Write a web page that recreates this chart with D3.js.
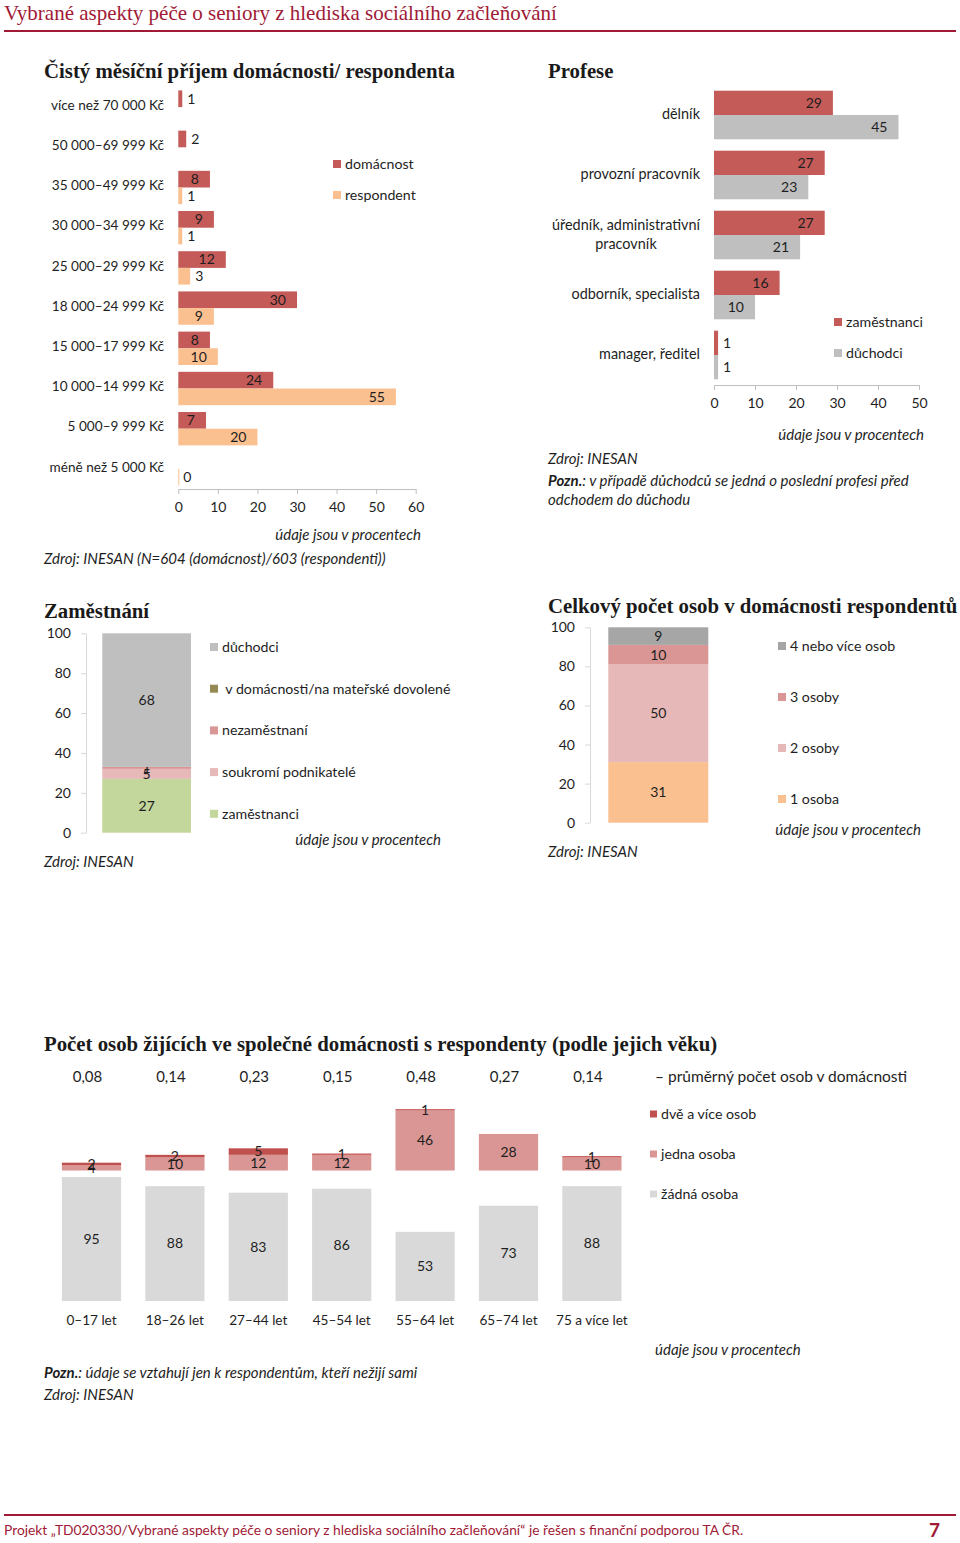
<!DOCTYPE html>
<html><head><meta charset="utf-8">
<script src="https://cdn.jsdelivr.net/npm/d3@7"></script>
<style>
body{margin:0;background:#fff}
svg{display:block;background:#fff}
text{white-space:pre}
</style></head><body>
<svg id="c" width="960" height="1543"></svg>
<script>
// ---------- DATA ----------
const headerTitle = "Vybrané aspekty péče o seniory z hlediska sociálního začleňování";
const footerText = "Projekt „TD020330/Vybrané aspekty péče o seniory z hlediska sociálního začleňování“ je řešen s finanční podporou TA ČR.";
const pageNumber = "7";

const incomeTitle = "Čistý měsíční příjem domácnosti/ respondenta";
const incomeCats = ["více než 70 000 Kč", "50 000–69 999 Kč", "35 000–49 999 Kč", "30 000–34 999 Kč", "25 000–29 999 Kč", "18 000–24 999 Kč", "15 000–17 999 Kč", "10 000–14 999 Kč", "5 000–9 999 Kč", "méně než 5 000 Kč"];
const incomeSeries = ["domácnost", "respondent"];
const incomeHousehold = [1, 2, 8, 9, 12, 30, 8, 24, 7, null];
const incomeRespondent = [null, null, 1, 1, 3, 9, 10, 55, 20, 0];
const incomeTicks = [0, 10, 20, 30, 40, 50, 60];
const incomeSource = "Zdroj: INESAN (N=604 (domácnost)/603 (respondenti))";

const profTitle = "Profese";
const profCats = ["dělník", "provozní pracovník", "úředník, administrativní pracovník", "odborník, specialista", "manager, ředitel"];
const profSeries = ["zaměstnanci", "důchodci"];
const profEmployees = [29, 27, 27, 16, 1];
const profRetired = [45, 23, 21, 10, 1];
const profTicks = [0, 10, 20, 30, 40, 50];
const profSource = "Zdroj: INESAN";
const profNoteBold = "Pozn.";
const profNote = [": v případě důchodců se jedná o poslední profesi před", "odchodem do důchodu"];

const empTitle = "Zaměstnání";
const empCats = ["zaměstnanci", "soukromí podnikatelé", "nezaměstnaní", " v domácnosti/na mateřské dovolené", "důchodci"];
const empValues = [27, 5, 1, 0, 68];
const empTicks = [0, 20, 40, 60, 80, 100];

const hhTitle = "Celkový počet osob v domácnosti respondentů";
const hhCats = ["1 osoba", "2 osoby", "3 osoby", "4 nebo více osob"];
const hhValues = [31, 50, 10, 9];
const hhTicks = [0, 20, 40, 60, 80, 100];

const ageTitle = "Počet osob žijících ve společné domácnosti s respondenty (podle jejich věku)";
const ageCats = ["0–17 let", "18–26 let", "27–44 let", "45–54 let", "55–64 let", "65–74 let", "75 a více let"];
const ageSeries = ["žádná osoba", "jedna osoba", "dvě a více osob"];
const ageNone = [95, 88, 83, 86, 53, 73, 88];
const ageOne = [4, 10, 12, 12, 46, 28, 10];
const ageTwoPlus = [2, 2, 5, 1, 1, null, 1];
const ageAvg = [0.08, 0.14, 0.23, 0.15, 0.48, 0.27, 0.14];
const ageAvgLabel = "– průměrný počet osob v domácnosti";
const ageNoteBold = "Pozn.";
const ageNote = ": údaje se vztahují jen k respondentům, kteří nežijí sami";

const unitNote = "údaje jsou v procentech";
const srcNote = "Zdroj: INESAN";

// ---------- STYLE ----------
const SANS = "Lato, 'Liberation Sans', sans-serif";
const SERIF = "'Liberation Serif', 'DejaVu Serif', serif";
const TXT = "#1e1e1e";
const DARKRED = "#a01a36";
const RED = "#c45b58";
const PEACH = "#fac090";
const GREY = "#bfbfbf";
const PINK = "#e6b9b8";
const ROSE = "#d99694";
const DEEPRED = "#c0504d";
const GREEN = "#c3d69b";
const OLIVE = "#948a54";
const DARKGREY = "#a6a6a6";
const LIGHTGREY = "#d9d9d9";
const AXIS = "#bfbfbf";
const LBL = 13.6;   // income category label size
const PLBL = 14.4;  // profese category label size
const LEG = 14.2;   // legend text size
const ITAL = 15;    // italic note size

const svg = d3.select("#c");
svg.append("rect").attr("width", 960).attr("height", 1543).attr("fill", "#fff");

function label(g, x, y, s, o = {}) {
  const t = g.append("text").attr("x", x).attr("y", y)
    .attr("dy", o.baseline ? null : "0.35em")
    .attr("text-anchor", o.anchor || "start")
    .style("font-size", (o.size || (o.italic ? ITAL : 14)) + "px")
    .style("font-family", o.family || SANS)
    .style("font-style", o.italic ? "italic" : "normal")
    .style("font-weight", o.weight || "normal")
    .attr("fill", o.fill || TXT)
    .text(s);
  return t;
}
function title(x, y, s) {
  return label(svg, x, y, s, {baseline: true, size: 20.8, family: SERIF, weight: "bold", fill: "#1a1a1a"});
}
function legend(g, items, colors, x, y0, step, sq = 8) {
  items.forEach((t, i) => {
    const y = y0 + i * step;
    g.append("rect").attr("x", x).attr("y", y - sq / 2).attr("width", sq).attr("height", sq).attr("fill", colors[i]);
    label(g, x + sq + 4, y, t, {size: LEG});
  });
}
function styleAxis(g) {
  g.select(".domain").attr("stroke", AXIS);
  g.selectAll(".tick line").attr("stroke", AXIS);
  g.selectAll(".tick text").style("font-family", SANS).style("font-size", "14px").attr("fill", TXT);
}
function textWidth(s, size = 14) {
  const t = label(svg, -1000, -1000, s, {size});
  const w = t.node().getComputedTextLength();
  t.remove();
  return w;
}
function barValue(g, v, xStart, xEnd, yc) {
  if (v == null) return;
  const s = String(v);
  const tw = textWidth(s);
  if (xEnd - xStart > tw + 16) label(g, xEnd - 11, yc, s, {anchor: "end"});
  else label(g, xEnd + 5, yc, s);
}

// ---------- HEADER / FOOTER ----------
label(svg, 4, 20, headerTitle, {baseline: true, size: 21, family: SERIF, fill: DARKRED});
svg.append("line").attr("x1", 4).attr("x2", 956).attr("y1", 31).attr("y2", 31).attr("stroke", DARKRED).attr("stroke-width", 2);
svg.append("line").attr("x1", 4).attr("x2", 956).attr("y1", 1515).attr("y2", 1515).attr("stroke", DARKRED).attr("stroke-width", 2);
label(svg, 4, 1530, footerText, {size: 13.8, fill: DARKRED});
label(svg, 940, 1530, pageNumber, {size: 19, weight: "bold", fill: DARKRED, anchor: "end"});

// ---------- INCOME ----------
{
  const g = svg.append("g");
  title(44, 78, incomeTitle);
  const x = d3.scaleLinear().domain([0, 60]).range([178.3, 415.7]);
  const y = d3.scaleBand().domain(incomeCats).range([87, 489]).paddingInner(0.17).paddingOuter(0.085);
  const sub = d3.scaleBand().domain([0, 1]).range([0, y.bandwidth()]);
  const series = [incomeHousehold, incomeRespondent];
  const cols = [RED, PEACH];
  series.forEach((vals, si) => {
    vals.forEach((v, i) => {
      if (v == null) return;
      const y0 = y(incomeCats[i]) + sub(si);
      g.append("rect").attr("x", x(0)).attr("y", y0)
        .attr("width", Math.max(x(v) - x(0), 1)).attr("height", sub.bandwidth()).attr("fill", cols[si]);
      barValue(g, v, x(0), x(v), y0 + sub.bandwidth() / 2);
    });
  });
  incomeCats.forEach(c => label(g, 164, y(c) + y.bandwidth() / 2 - 2, c, {anchor: "end", size: LBL}));
  const ax = g.append("g").attr("transform", "translate(0,489)")
    .call(d3.axisBottom(x).tickValues(incomeTicks).tickSize(5).tickSizeOuter(0).tickPadding(8));
  styleAxis(ax);
  legend(g, incomeSeries, cols, 333, 164, 31);
  label(g, 421, 535, unitNote, {anchor: "end", italic: true});
  label(g, 44, 559, incomeSource, {italic: true});
}

// ---------- PROFESE ----------
{
  const g = svg.append("g");
  title(548, 78, profTitle);
  const x = d3.scaleLinear().domain([0, 50]).range([714, 919]);
  const y = d3.scaleBand().domain(profCats).range([85, 385]).paddingInner(0.19).paddingOuter(0.095);
  const sub = d3.scaleBand().domain([0, 1]).range([0, y.bandwidth()]);
  const series = [profEmployees, profRetired];
  const cols = [RED, GREY];
  series.forEach((vals, si) => {
    vals.forEach((v, i) => {
      const y0 = y(profCats[i]) + sub(si);
      g.append("rect").attr("x", x(0)).attr("y", y0)
        .attr("width", x(v) - x(0)).attr("height", sub.bandwidth()).attr("fill", cols[si]);
      barValue(g, v, x(0), x(v), y0 + sub.bandwidth() / 2);
    });
  });
  profCats.forEach(c => {
    const words = c.split(" ");
    const lines = [];
    let cur = "";
    words.forEach(w => {
      const test = cur ? cur + " " + w : w;
      if (textWidth(test, PLBL) > 165 && cur) { lines.push(cur); cur = w; } else cur = test;
    });
    lines.push(cur);
    const yc = y(c) + y.bandwidth() / 2;
    const lh = 19;
    const maxW = d3.max(lines, l => textWidth(l, PLBL));
    lines.forEach((l, li) => {
      const yy = yc + (li - (lines.length - 1) / 2) * lh - 1;
      label(g, 700 - maxW / 2, yy, l, {anchor: "middle", size: PLBL});
    });
  });
  const ax = g.append("g").attr("transform", "translate(0,385)")
    .call(d3.axisBottom(x).tickValues(profTicks).tickSize(5).tickSizeOuter(0).tickPadding(8));
  styleAxis(ax);
  legend(g, profSeries, cols, 834, 322, 31);
  label(g, 924, 435, unitNote, {anchor: "end", italic: true});
  label(g, 548, 459, profSource, {italic: true});
  const n = label(g, 548, 481, "", {italic: true});
  n.append("tspan").style("font-weight", "bold").text(profNoteBold);
  n.append("tspan").text(profNote[0]);
  label(g, 548, 500, profNote[1], {italic: true});
}

// ---------- STACKED SINGLE BAR helper ----------
function stackedColumn({cats, vals, cols, yTop, yBottom, x0, x1, axisX, tickLabelX, ticks}) {
  const g = svg.append("g");
  const y = d3.scaleLinear().domain([0, 100]).range([yBottom, yTop]).clamp(true);
  const ax = g.append("g").attr("transform", `translate(${axisX},0)`)
    .call(d3.axisLeft(y).tickValues(ticks).tickSize(5).tickSizeOuter(0).tickPadding(axisX - tickLabelX - 5));
  styleAxis(ax);
  ax.select(".domain").attr("stroke", LIGHTGREY);
  ax.selectAll(".tick line").attr("stroke", LIGHTGREY);
  let acc = 0;
  vals.forEach((v, i) => {
    const a = acc, b = acc + v;
    acc = b;
    if (!v) return;
    g.append("rect").attr("x", x0).attr("y", y(b)).attr("width", x1 - x0)
      .attr("height", y(a) - y(b)).attr("fill", cols[i]);
    label(g, (x0 + x1) / 2, (y(a) + y(b)) / 2, String(v), {anchor: "middle"});
  });
  return g;
}

// ---------- ZAMĚSTNÁNÍ ----------
{
  title(44, 618, empTitle);
  const cols = [GREEN, PINK, ROSE, OLIVE, GREY];
  const g = stackedColumn({cats: empCats, vals: empValues, cols, yTop: 633.3, yBottom: 832.7,
    x0: 102.3, x1: 191, axisX: 86, tickLabelX: 71, ticks: empTicks});
  legend(g, empCats.slice().reverse(), cols.slice().reverse(), 210, 647, 41.7);
  label(g, 441, 840, unitNote, {anchor: "end", italic: true});
  label(g, 44, 862, srcNote, {italic: true});
}

// ---------- CELKOVÝ POČET OSOB ----------
{
  title(548, 613, hhTitle);
  const cols = [PEACH, PINK, ROSE, DARKGREY];
  const g = stackedColumn({cats: hhCats, vals: hhValues, cols, yTop: 627.3, yBottom: 822.7,
    x0: 608.3, x1: 708.3, axisX: 590, tickLabelX: 575, ticks: hhTicks});
  legend(g, hhCats.slice().reverse(), cols.slice().reverse(), 778, 646, 51);
  label(g, 921, 830, unitNote, {anchor: "end", italic: true});
  label(g, 548, 852, srcNote, {italic: true});
}

// ---------- VĚK ----------
{
  const g = svg.append("g");
  title(44, 1051, ageTitle);
  const x = d3.scaleBand().domain(ageCats).range([49.8, 633.6]).paddingInner(0.29).paddingOuter(0.145);
  const y = d3.scaleLinear().domain([0, 150]).range([1301, 1105.25]);
  const cols = [LIGHTGREY, ROSE, DEEPRED];
  ageCats.forEach((c, i) => {
    const bx = x(c), bw = x.bandwidth(), cx = bx + bw / 2;
    const n = ageNone[i];
    g.append("rect").attr("x", bx).attr("y", y(n)).attr("width", bw).attr("height", y(0) - y(n)).attr("fill", cols[0]);
    const o = ageOne[i], t = ageTwoPlus[i];
    g.append("rect").attr("x", bx).attr("y", y(100 + o)).attr("width", bw).attr("height", y(100) - y(100 + o)).attr("fill", cols[1]);
    if (t != null) g.append("rect").attr("x", bx).attr("y", y(100 + o + t)).attr("width", bw).attr("height", y(100 + o) - y(100 + o + t)).attr("fill", cols[2]);
    label(g, cx, (y(0) + y(n)) / 2, String(n), {anchor: "middle"});
    label(g, cx, (y(100) + y(100 + o)) / 2, String(o), {anchor: "middle"});
    if (t != null) label(g, cx, (y(100 + o) + y(100 + o + t)) / 2, String(t), {anchor: "middle"});
    label(g, cx, 1320, c, {anchor: "middle", size: LBL});
    label(g, cx - 4, 1077, d3.format(".2f")(ageAvg[i]).replace(".", ","), {anchor: "middle", size: 15});
  });
  label(g, 655, 1077, ageAvgLabel, {size: 15.5});
  legend(g, ageSeries.slice().reverse(), cols.slice().reverse(), 650, 1114, 40, 7);
  label(g, 655, 1350, unitNote, {italic: true});
  const n = label(g, 44, 1373, "", {italic: true});
  n.append("tspan").style("font-weight", "bold").text(ageNoteBold);
  n.append("tspan").text(ageNote);
  label(g, 44, 1395, srcNote, {italic: true});
}
</script>
</body></html>
